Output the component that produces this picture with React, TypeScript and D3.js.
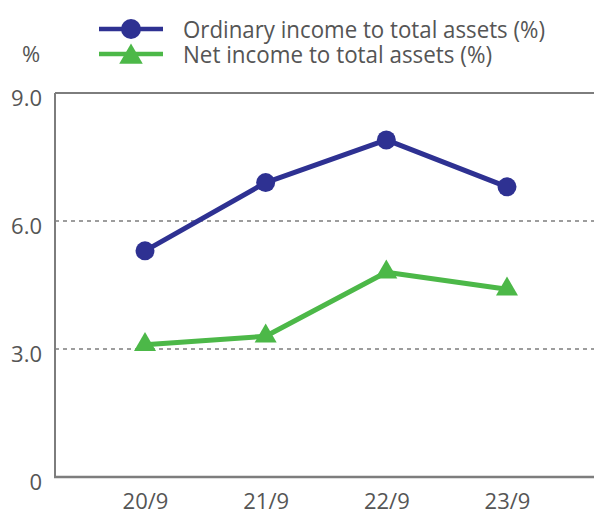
import React, { useEffect, useRef } from 'react';
import * as d3 from 'd3';

const periods = ['20/9', '21/9', '22/9', '23/9'];
const ordinaryIncome = [5.3, 6.9, 7.9, 6.8];
const netIncome = [3.1, 3.3, 4.8, 4.4];
const yTicks = [0, 3, 6, 9];
const yTickLabels = ['0', '3.0', '6.0', '9.0'];
const gridValues = [3, 6];
const legendLabels = ['Ordinary income to total assets (%)', 'Net income to total assets (%)'];

const W = 594;
const H = 512;
const BLUE = '#2e3192';
const GREEN = '#4cb848';
const TEXT = '#555555';
const AXIS = '#7d7d7d';
const FONT = '"Open Sans", "Noto Sans", sans-serif';

export default function App() {
  const svgRef = useRef<SVGSVGElement>(null);

  useEffect(() => {
    if (!svgRef.current) return;
    const svg = d3.select(svgRef.current);
    svg.selectAll('*').remove();

    const left = 55;
    const right = W;
    const top = 93;
    const bottom = 477;

    const x = d3.scalePoint<string>().domain(periods).range([145, 507]);
    const y = d3.scaleLinear().domain([0, 9]).range([bottom, top]);

    // dashed grid lines
    svg.append('g')
      .selectAll('line')
      .data(gridValues)
      .enter()
      .append('line')
      .attr('x1', left)
      .attr('x2', right)
      .attr('y1', d => y(d))
      .attr('y2', d => y(d))
      .attr('stroke', AXIS)
      .attr('stroke-width', 1.5)
      .attr('stroke-dasharray', '4,4');

    // frame: left, top, bottom
    svg.append('line')
      .attr('x1', left).attr('x2', left)
      .attr('y1', y(9)).attr('y2', y(0))
      .attr('stroke', AXIS).attr('stroke-width', 2);
    svg.append('line')
      .attr('x1', left).attr('x2', right)
      .attr('y1', y(9)).attr('y2', y(9))
      .attr('stroke', AXIS).attr('stroke-width', 2);
    svg.append('line')
      .attr('x1', left - 1).attr('x2', right)
      .attr('y1', y(0)).attr('y2', y(0))
      .attr('stroke', AXIS).attr('stroke-width', 2.5);

    // y axis labels
    const yAxis = svg.append('g')
      .attr('transform', `translate(${left},0)`)
      .call(
        d3.axisLeft(y)
          .tickValues(yTicks)
          .tickSize(0)
          .tickPadding(13)
          .tickFormat((d, i) => yTickLabels[i])
      );
    yAxis.select('.domain').remove();
    yAxis.selectAll('text')
      .attr('dy', '0.55em')
      .attr('fill', TEXT)
      .style('font-family', FONT)
      .style('font-size', '22px');

    // x axis labels
    const xAxis = svg.append('g')
      .attr('transform', `translate(0,${bottom})`)
      .call(d3.axisBottom(x).tickSize(0).tickPadding(16));
    xAxis.select('.domain').remove();
    xAxis.selectAll('text')
      .attr('dy', '0.71em')
      .attr('fill', TEXT)
      .style('font-family', FONT)
      .style('font-size', '22px');

    // unit label
    svg.append('text')
      .attr('x', 31)
      .attr('y', 62)
      .attr('text-anchor', 'middle')
      .attr('fill', TEXT)
      .style('font-family', FONT)
      .style('font-size', '22px')
      .text('%');

    const line = d3.line<number>()
      .x((d, i) => x(periods[i]) as number)
      .y(d => y(d));

    // net income (green)
    svg.append('path')
      .datum(netIncome)
      .attr('d', line)
      .attr('fill', 'none')
      .attr('stroke', GREEN)
      .attr('stroke-width', 5)
      .attr('stroke-linejoin', 'round');
    const tri = d3.symbol().type(d3.symbolTriangle).size(210);
    svg.append('g')
      .selectAll('path')
      .data(netIncome)
      .enter()
      .append('path')
      .attr('d', tri)
      .attr('transform', (d, i) => `translate(${x(periods[i])},${y(d)})`)
      .attr('fill', GREEN);

    // ordinary income (blue)
    svg.append('path')
      .datum(ordinaryIncome)
      .attr('d', line)
      .attr('fill', 'none')
      .attr('stroke', BLUE)
      .attr('stroke-width', 5)
      .attr('stroke-linejoin', 'round');
    svg.append('g')
      .selectAll('circle')
      .data(ordinaryIncome)
      .enter()
      .append('circle')
      .attr('cx', (d, i) => x(periods[i]) as number)
      .attr('cy', d => y(d))
      .attr('r', 9.5)
      .attr('fill', BLUE);

    // legend
    const legendRows = [
      { label: legendLabels[0], color: BLUE, lineY: 29, textY: 38, width: 362 },
      { label: legendLabels[1], color: GREEN, lineY: 54, textY: 63, width: 309 },
    ];
    const lg = svg.append('g');
    legendRows.forEach((r, i) => {
      lg.append('line')
        .attr('x1', 99).attr('x2', 163)
        .attr('y1', r.lineY).attr('y2', r.lineY)
        .attr('stroke', r.color)
        .attr('stroke-width', 4.5);
      if (i === 0) {
        lg.append('circle')
          .attr('cx', 131).attr('cy', r.lineY).attr('r', 10)
          .attr('fill', r.color);
      } else {
        lg.append('path')
          .attr('d', d3.symbol().type(d3.symbolTriangle).size(240))
          .attr('transform', `translate(131,${r.lineY + 3})`)
          .attr('fill', r.color);
      }
      lg.append('text')
        .attr('x', 183)
        .attr('y', r.textY)
        .attr('fill', TEXT)
        .attr('textLength', r.width)
        .attr('lengthAdjust', 'spacingAndGlyphs')
        .style('font-family', FONT)
        .style('font-size', '23px')
        .text(r.label);
    });
  }, []);

  return (
    <svg
      ref={svgRef}
      width={W}
      height={H}
      style={{ position: 'absolute', left: 0, top: 0, background: '#fff' }}
    />
  );
}
